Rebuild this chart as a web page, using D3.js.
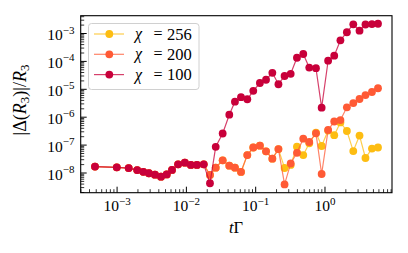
<!DOCTYPE html>
<html>
<head>
<meta charset="utf-8">
<script src="https://cdn.jsdelivr.net/npm/d3@7"></script>
<style>
body { margin: 0; background: #fff; }
</style>
</head>
<body>
<svg id="chart" width="408" height="253" font-family="'Liberation Serif', 'DejaVu Serif', serif"></svg>
<script>
// time grid tΓ
const tGrid = [0.00048, 0.00099, 0.00147, 0.00195, 0.00239, 0.00288, 0.00352, 0.0043, 0.0052, 0.0062,
  0.0076, 0.0095, 0.0116, 0.0142, 0.0178, 0.0219, 0.0265, 0.0334, 0.0416, 0.0502,
  0.0614, 0.0757, 0.0923, 0.115, 0.141, 0.174, 0.213, 0.261, 0.320, 0.394,
  0.486, 0.593, 0.741, 0.895, 1.11, 1.36, 1.67, 2.07, 2.56, 3.15,
  3.84, 4.76, 5.82];

const chi100 = [1.7e-8, 1.6e-8, 1.5e-8, 1.27e-8, 1.1e-8, 9.8e-9, 8.7e-9, 7.4e-9, 8.9e-9, 1.29e-8,
  2.05e-8, 2.34e-8, 1.94e-8, 1.94e-8, 2.05e-8, 4.3e-9, 8.7e-8, 2.6e-7, 1.23e-6, 3.6e-6,
  5.2e-6, 4.4e-6, 8.8e-6, 1.68e-5, 2.2e-5, 3.9e-5, 1.52e-5, 3.0e-5, 3.6e-5, 1.35e-4,
  1.84e-4, 6.0e-5, 5.7e-5, 2.19e-6, 1.06e-4, 1.6e-4, 5.7e-4, 1.11e-3, 2.14e-3, 1.26e-3,
  2.1e-3, 2.17e-3, 2.24e-3];

const chi200 = [1.7e-8, 1.6e-8, 1.5e-8, 1.27e-8, 1.1e-8, 9.8e-9, 8.7e-9, 7.4e-9, 8.9e-9, 1.29e-8,
  2.05e-8, 2.34e-8, 1.94e-8, 1.94e-8, 2.05e-8, 8.5e-9, 1.55e-8, 2.85e-8, 1.83e-8, 1.55e-8,
  1.09e-8, 4.4e-8, 8.2e-8, 9.5e-8, 6.0e-8, 3.26e-8, 7.2e-8, 3.9e-9, 2.2e-8, 5.3e-8,
  1.7e-7, 1.29e-7, 2.65e-7, 9.2e-9, 3.5e-7, 7.0e-7, 7.9e-7, 2.26e-6, 3.2e-6, 4.5e-6,
  6.2e-6, 8.0e-6, 1.09e-5];

const chi256 = [1.7e-8, 1.6e-8, 1.5e-8, 1.27e-8, 1.1e-8, 9.8e-9, 8.7e-9, 7.4e-9, 8.9e-9, 1.29e-8,
  2.05e-8, 2.34e-8, 1.94e-8, 1.94e-8, 2.05e-8, 8.5e-9, 1.55e-8, 2.85e-8, 1.83e-8, 1.55e-8,
  1.09e-8, 4.4e-8, 8.2e-8, 9.5e-8, 6.0e-8, 3.26e-8, 7.2e-8, 1.51e-8, 1.94e-8, 8.8e-8,
  4.4e-8, 1.16e-7, 2.78e-7, 9.3e-8, 3.33e-7, 2.26e-7, 6.5e-7, 3.2e-7, 6.1e-8, 2.2e-7,
  3.45e-8, 7.5e-8, 8.2e-8];

const chiLabels = ["256", "200", "100"];
const xTickExps = [-3, -2, -1, 0];
const yTickExps = [-8, -7, -6, -5, -4, -3];

const colors = ["#fdbd12", "#ff5a35", "#c8003a"];
const seriesList = [chi256, chi200, chi100];

const svg = d3.select("#chart");

const plotL = 80.7, plotR = 392, plotT = 15.7, plotB = 192.7;

const x = d3.scaleLog()
    .domain([Math.pow(10, -3.525), Math.pow(10, 0.967)])
    .range([plotL, plotR]);

const y = d3.scaleLog()
    .domain([Math.pow(10, -8.706), Math.pow(10, -2.362)])
    .range([plotB, plotT]);

// minor / major ticks (inward, left and bottom only)
const xMinor = [];
for (let e = -4; e <= 0; e++) {
    for (let k = 2; k <= 9; k++) {
        const v = k * Math.pow(10, e);
        if (v > x.domain()[0] && v < x.domain()[1]) xMinor.push(v);
    }
}
const yMinor = [];
for (let e = -9; e <= -3; e++) {
    for (let k = 2; k <= 9; k++) {
        const v = k * Math.pow(10, e);
        if (v > y.domain()[0] && v < y.domain()[1]) yMinor.push(v);
    }
}

const ticks = svg.append("g").attr("stroke", "#000");
ticks.selectAll(".xmin").data(xMinor).join("line")
    .attr("x1", d => x(d)).attr("x2", d => x(d))
    .attr("y1", plotB).attr("y2", plotB - 3.5)
    .attr("stroke-width", 0.8);
ticks.selectAll(".xmaj").data(xTickExps).join("line")
    .attr("x1", d => x(Math.pow(10, d))).attr("x2", d => x(Math.pow(10, d)))
    .attr("y1", plotB).attr("y2", plotB - 6)
    .attr("stroke-width", 1);
ticks.selectAll(".ymin").data(yMinor).join("line")
    .attr("y1", d => y(d)).attr("y2", d => y(d))
    .attr("x1", plotL).attr("x2", plotL + 3.5)
    .attr("stroke-width", 0.8);
ticks.selectAll(".ymaj").data(yTickExps).join("line")
    .attr("y1", d => y(Math.pow(10, d))).attr("y2", d => y(Math.pow(10, d)))
    .attr("x1", plotL).attr("x2", plotL + 6)
    .attr("stroke-width", 1);

// tick labels
const xl = svg.append("g").selectAll("text").data(xTickExps).join("text")
    .attr("x", d => x(Math.pow(10, d)))
    .attr("y", 211)
    .attr("text-anchor", "middle")
    .attr("font-size", 15.5);
xl.append("tspan").text("10");
xl.append("tspan").attr("font-size", 11).attr("dy", -6.5)
    .text(d => d < 0 ? "\u2212" + (-d) : String(d));

const yl = svg.append("g").selectAll("text").data(yTickExps).join("text")
    .attr("x", 74.5)
    .attr("y", d => y(Math.pow(10, d)) + 6.5)
    .attr("text-anchor", "end")
    .attr("font-size", 15.5);
yl.append("tspan").text("10");
yl.append("tspan").attr("font-size", 11).attr("dy", -6.5)
    .text(d => "\u2212" + (-d));

// series
const plot = svg.append("g");
const line = d3.line()
    .x((d, i) => x(tGrid[i]))
    .y(d => y(d));

seriesList.forEach((vals, s) => {
    plot.append("path")
        .datum(vals)
        .attr("fill", "none")
        .attr("stroke", colors[s])
        .attr("stroke-opacity", 0.75)
        .attr("stroke-width", 1.2)
        .attr("d", line);
    plot.selectAll(".pt" + s).data(vals).join("circle")
        .attr("class", "pt" + s)
        .attr("cx", (d, i) => x(tGrid[i]))
        .attr("cy", d => y(d))
        .attr("r", 3.9)
        .attr("fill", colors[s]);
});

// frame
svg.append("rect")
    .attr("x", plotL).attr("y", plotT)
    .attr("width", plotR - plotL).attr("height", plotB - plotT)
    .attr("fill", "none").attr("stroke", "#000").attr("stroke-width", 1.1);

// legend
const lg = svg.append("g");
lg.append("rect")
    .attr("x", 88.5).attr("y", 23.5).attr("width", 110.5).attr("height", 66)
    .attr("rx", 3)
    .attr("fill", "#fff").attr("fill-opacity", 0.8)
    .attr("stroke", "#d0d0d0").attr("stroke-width", 1);
const rows = lg.selectAll(".row").data(chiLabels).join("g")
    .attr("class", "row")
    .attr("transform", (d, i) => `translate(0,${34 + i * 20.3})`);
rows.append("line")
    .attr("x1", 94).attr("x2", 124).attr("y1", 0).attr("y2", 0)
    .attr("stroke", (d, i) => colors[i]).attr("stroke-opacity", 0.75)
    .attr("stroke-width", 1.2);
rows.append("circle")
    .attr("cx", 109.3).attr("cy", 0).attr("r", 3.9)
    .attr("fill", (d, i) => colors[i]);
rows.append("text")
    .attr("x", 135).attr("y", 5)
    .attr("font-size", 16)
    .attr("font-style", "italic")
    .text("\u03c7");
rows.append("text")
    .attr("x", 153.5).attr("y", 5)
    .attr("font-size", 16)
    .text("=");
rows.append("text")
    .attr("x", 167).attr("y", 5.5)
    .attr("font-size", 16.5)
    .text(d => d);

// axis labels
const xlab = svg.append("text")
    .attr("x", 236).attr("y", 233)
    .attr("text-anchor", "middle")
    .attr("font-size", 16.5);
xlab.append("tspan").attr("font-style", "italic").text("t");
xlab.append("tspan").text("\u0393");

const ylab = svg.append("text")
    .attr("transform", "translate(26,100) rotate(-90)")
    .attr("text-anchor", "middle")
    .attr("font-size", 18);
ylab.append("tspan").text("|\u0394(");
ylab.append("tspan").attr("font-style", "italic").text("R");
ylab.append("tspan").attr("font-size", 13).attr("dy", 3).text("3");
ylab.append("tspan").attr("dy", -3).text(")|/");
ylab.append("tspan").attr("font-style", "italic").text("R");
ylab.append("tspan").attr("font-size", 13).attr("dy", 3).text("3");
</script>
</body>
</html>
